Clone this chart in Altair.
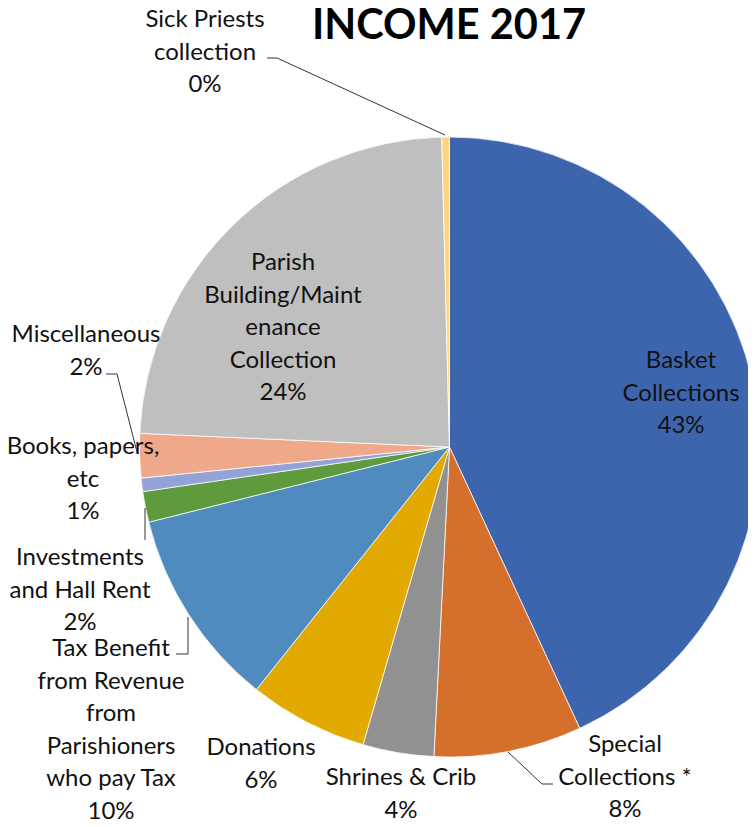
import altair as alt
import pandas as pd

# ---- data ----
categories = [
    "Basket Collections", "Special Collections *", "Shrines & Crib", "Donations",
    "Tax Benefit from Revenue from Parishioners who pay Tax", "Investments and Hall Rent",
    "Books, papers, etc", "Miscellaneous", "Parish Building/Maintenance Collection",
    "Sick Priests collection",
]
label_lines = [
    "Basket\nCollections", "Special\nCollections *", "Shrines & Crib", "Donations",
    "Tax Benefit\nfrom Revenue\nfrom\nParishioners\nwho pay Tax", "Investments\nand Hall Rent",
    "Books, papers,\netc", "Miscellaneous", "Parish\nBuilding/Maint\nenance\nCollection",
    "Sick Priests\ncollection",
]
shares = [43.1, 7.7, 3.7, 6.2, 10.4, 1.6, 0.7, 2.3, 23.9, 0.4]
colors = ["#3D65AE", "#D46F2C", "#919191", "#E2A900", "#4F8BBF",
          "#5F9B3D", "#93A3D8", "#F0A88A", "#BFBFBF", "#FFD480"]
title_text = "INCOME 2017"

df = pd.DataFrame({
    "category": categories,
    "label": label_lines,
    "share": shares,
    "order": list(range(len(categories))),
})

FONT = "Lato"
FS = 24
LH = 32.5
CX, CY, R = 441.5, 439, 310

base = alt.Chart(df)

pie = base.mark_arc(outerRadius=R, stroke="white", strokeWidth=0.75).encode(
    theta=alt.Theta("share:Q", stack=True),
    order=alt.Order("order:Q", sort="ascending"),
    color=alt.Color("category:N", scale=alt.Scale(domain=categories, range=colors), legend=None),
    x=alt.value(CX),
    y=alt.value(CY),
)

# label placement: (centre x, y of first line) -- annotation layout
label_pos = {
    "Basket Collections": (673, 353),
    "Special Collections *": (617, 737),
    "Shrines & Crib": (393, 770),
    "Donations": (253, 740),
    "Tax Benefit from Revenue from Parishioners who pay Tax": (103, 641),
    "Investments and Hall Rent": (72, 550),
    "Books, papers, etc": (75, 439),
    "Miscellaneous": (78, 327),
    "Parish Building/Maintenance Collection": (275, 255),
    "Sick Priests collection": (197, 12),
}

layers = [pie]
for cat, (px, py) in label_pos.items():
    layers.append(
        base.transform_joinaggregate(total="sum(share)")
        .transform_calculate(
            txt="datum.label + '\\n' + round(datum.share / datum.total * 100) + '%'"
        )
        .transform_filter(alt.datum.category == cat)
        .mark_text(font=FONT, fontSize=FS, lineHeight=LH, lineBreak="\n",
                   align="center", baseline="middle", color="#111111")
        .encode(x=alt.value(px), y=alt.value(py), text="txt:N")
    )

# leader lines (annotation)
one = alt.Chart(pd.DataFrame({"k": [0]}))
segments = [
    (259, 50, 269, 50), (269, 50, 437, 127),      # Sick Priests
    (98, 366, 109, 366), (109, 366, 129, 444),    # Miscellaneous
    (137, 500, 137, 532),                         # Investments
    (168, 646, 180, 646), (180, 646, 180, 609),   # Tax Benefit
    (500, 744, 534, 776), (534, 776, 545, 776),   # Special
]
for x1, y1, x2, y2 in segments:
    layers.append(
        one.mark_rule(color="#333333", strokeWidth=1).encode(
            x=alt.value(x1), y=alt.value(y1), x2=alt.value(x2), y2=alt.value(y2)
        )
    )

title = alt.Chart(pd.DataFrame({"t": [title_text]})).mark_text(
    font=FONT, fontSize=41.5, fontWeight="bold", align="center", baseline="middle", color="#000000"
).encode(x=alt.value(441), y=alt.value(19), text="t:N")
layers.append(title)

chart = alt.layer(*layers).properties(
    width=740, height=811, autosize="none", padding=0
).configure_view(stroke=None)

chart.save("out.html", embed_options={"renderer": "svg", "actions": False})
